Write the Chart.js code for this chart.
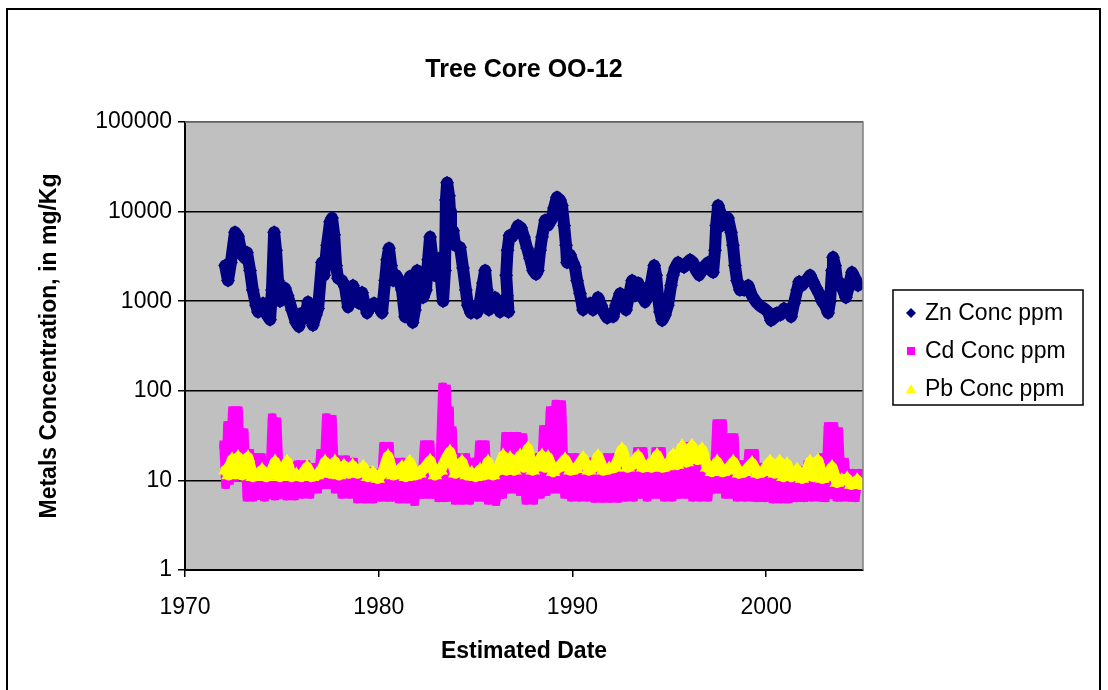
<!DOCTYPE html>
<html>
<head>
<meta charset="utf-8">
<title>Tree Core OO-12</title>
<script src="https://cdn.jsdelivr.net/npm/chart.js@4/dist/chart.umd.min.js"></script>
<style>
  html, body { margin: 0; padding: 0; background: #fff; }
  canvas { display: block; }
</style>
</head>
<body>
<canvas id="coreChart" width="1108" height="690"></canvas>
<script>
// Tick values
const xTicks = [1970, 1980, 1990, 2000];
const yTicks = [1, 10, 100, 1000, 10000, 100000];

// Zn
const znYears = [
  1972.07, 1972.22, 1972.37, 1972.58, 1972.74, 1972.94, 1973.1, 1973.2, 1973.36, 1973.5,
  1973.67, 1973.77, 1974.03, 1974.23, 1974.39, 1974.49, 1974.6, 1974.7, 1974.8, 1974.9,
  1975.16, 1975.3, 1975.52, 1975.73, 1975.88, 1976.04, 1976.2, 1976.35, 1976.5, 1976.6,
  1976.76, 1976.87, 1977.07, 1977.18, 1977.33, 1977.49, 1977.59, 1977.7, 1977.8, 1977.9,
  1978.1, 1978.26, 1978.42, 1978.57, 1978.67, 1978.83, 1978.98, 1979.14, 1979.29, 1979.4,
  1979.55, 1979.76, 1979.96, 1980.17, 1980.33, 1980.43, 1980.53, 1980.64, 1980.74, 1980.9,
  1981.05, 1981.2, 1981.36, 1981.51, 1981.62, 1981.75, 1981.87, 1981.98, 1982.13, 1982.29,
  1982.44, 1982.55, 1982.65, 1982.75, 1982.86, 1983.01, 1983.11, 1983.22, 1983.32, 1983.42,
  1983.47, 1983.53, 1983.63, 1983.68, 1983.73, 1983.84, 1983.94, 1984.2, 1984.35, 1984.5,
  1984.6, 1984.76, 1984.92, 1985.07, 1985.23, 1985.38, 1985.49, 1985.59, 1985.69, 1985.85,
  1986.0, 1986.16, 1986.26, 1986.42, 1986.55, 1986.62, 1986.7, 1986.58, 1986.65, 1986.75,
  1986.88, 1987.04, 1987.19, 1987.35, 1987.5, 1987.66, 1987.81, 1987.97, 1988.12, 1988.22,
  1988.33, 1988.43, 1988.59, 1988.74, 1988.9, 1989.05, 1989.2, 1989.36, 1989.46, 1989.57,
  1989.67, 1989.72, 1989.88, 1990.03, 1990.13, 1990.24, 1990.39, 1990.55, 1990.7, 1990.91,
  1991.06, 1991.22, 1991.32, 1991.48, 1991.63, 1991.79, 1991.94, 1992.1, 1992.25, 1992.46,
  1992.61, 1992.77, 1992.92, 1993.08, 1993.23, 1993.39, 1993.54, 1993.75, 1993.9, 1994.06,
  1994.22, 1994.32, 1994.42, 1994.52, 1994.63, 1994.78, 1994.93, 1995.09, 1995.19, 1995.3,
  1995.45, 1995.61, 1995.76, 1995.92, 1996.07, 1996.23, 1996.38, 1996.54, 1996.69, 1996.85,
  1997.0, 1997.16, 1997.26, 1997.36, 1997.42, 1997.52, 1997.62, 1997.72, 1997.88, 1998.03,
  1998.19, 1998.29, 1998.39, 1998.5, 1998.65, 1998.86, 1999.07, 1999.27, 1999.48, 1999.69,
  1999.89, 2000.1, 2000.25, 2000.41, 2000.56, 2000.72, 2000.92, 2001.13, 2001.29, 2001.44,
  2001.6, 2001.7, 2001.85, 2002.06, 2002.27, 2002.42, 2002.58, 2002.73, 2002.89, 2003.04,
  2003.2, 2003.3, 2003.4, 2003.45, 2003.56, 2003.66, 2003.82, 2003.97, 2004.12, 2004.28,
  2004.43, 2004.59, 2004.74
];
const znValues = [
  2500, 1700, 2700, 5900, 5300, 3300, 3000, 3500, 2200, 1330,
  900, 760, 950, 700, 620, 1330, 5900, 3700, 1700, 1000,
  1400, 1150, 800, 580, 520, 740, 650, 980, 800, 540,
  700, 830, 2700, 1950, 4200, 7700, 8500, 5500, 2500, 1800,
  1700, 1450, 860, 1330, 1500, 1100, 950, 1250, 900, 740,
  860, 950, 900, 740, 1700, 2900, 3900, 2500, 1700, 1950,
  1700, 1330, 670, 1000, 1900, 580, 800, 2200, 1500, 1100,
  1330, 2900, 5200, 3300, 1950, 2700, 3000, 1700, 1000, 2200,
  13500, 21000, 15000, 10000, 5200, 6100, 4200, 4000, 2350, 1330,
  900, 740, 860, 740, 1000, 1600, 2200, 1330, 800, 900,
  1100, 900, 760, 1000, 800, 1150, 760, 1950, 3700, 5400,
  5200, 5900, 7000, 6600, 5200, 3900, 3000, 2200, 2000, 2200,
  3700, 5200, 8000, 7000, 8000, 11000, 14500, 13500, 11700, 7000,
  4200, 2700, 3300, 2700, 2400, 1700, 1220, 800, 900, 950,
  800, 900, 1100, 900, 740, 650, 700, 670, 900, 1220,
  950, 800, 1150, 1700, 1150, 1600, 1220, 980, 1150, 1600,
  2500, 1950, 1100, 760, 610, 700, 900, 1500, 1950, 2350,
  2700, 2500, 2400, 2700, 2900, 2700, 2200, 1950, 2200, 2500,
  2700, 2200, 2100, 3700, 7000, 11700, 10000, 7000, 8000, 8500,
  5900, 4200, 2500, 1700, 1330, 1330, 1500, 1150, 980, 880,
  830, 760, 610, 650, 740, 700, 830, 760, 670, 950,
  1330, 1650, 1500, 1700, 1950, 1650, 1400, 1220, 1000, 900,
  740, 1000, 2200, 3100, 2500, 1700, 1600, 1330, 1100, 1500,
  2100, 1800, 1500
];

// Cd
const cdYears = [
  1972.0, 1972.1, 1972.2, 1972.3, 1972.45, 1972.6, 1972.75, 1972.9, 1973.05, 1973.2,
  1973.35, 1973.5, 1973.65, 1973.8, 1973.95, 1974.1, 1974.25, 1974.35, 1974.5, 1974.65,
  1974.75, 1974.9, 1975.05, 1975.25, 1975.45, 1975.65, 1975.85, 1976.05, 1976.25, 1976.45,
  1976.65, 1976.85, 1977.0, 1977.15, 1977.3, 1977.45, 1977.6, 1977.75, 1977.9, 1978.1,
  1978.3, 1978.5, 1978.7, 1978.9, 1979.1, 1979.3, 1979.5, 1979.7, 1979.9, 1980.1,
  1980.25, 1980.4, 1980.55, 1980.7, 1980.85, 1981.05, 1981.25, 1981.45, 1981.65, 1981.85,
  1982.05, 1982.2, 1982.35, 1982.5, 1982.65, 1982.8, 1982.95, 1983.1, 1983.3, 1983.4,
  1983.5, 1983.6, 1983.65, 1983.75, 1983.8, 1983.95, 1984.1, 1984.3, 1984.5, 1984.7,
  1984.9, 1985.05, 1985.2, 1985.35, 1985.5, 1985.65, 1985.85, 1986.05, 1986.25, 1986.4,
  1986.55, 1986.7, 1986.85, 1987.0, 1987.15, 1987.3, 1987.45, 1987.6, 1987.8, 1988.0,
  1988.2, 1988.35, 1988.5, 1988.65, 1988.85, 1989.0, 1989.15, 1989.3, 1989.45, 1989.6,
  1989.75, 1989.95, 1990.15, 1990.35, 1990.55, 1990.75, 1990.95, 1991.15, 1991.35, 1991.55,
  1991.75, 1991.95, 1992.15, 1992.35, 1992.55, 1992.75, 1992.95, 1993.15, 1993.35, 1993.5,
  1993.65, 1993.85, 1994.0, 1994.15, 1994.3, 1994.45, 1994.6, 1994.75, 1994.95, 1995.15,
  1995.35, 1995.5, 1995.7, 1995.85, 1996.0, 1996.2, 1996.4, 1996.6, 1996.8, 1997.0,
  1997.15, 1997.3, 1997.45, 1997.6, 1997.75, 1997.9, 1998.05, 1998.2, 1998.35, 1998.5,
  1998.7, 1998.9, 1999.1, 1999.25, 1999.4, 1999.55, 1999.75, 1999.95, 2000.15, 2000.35,
  2000.55, 2000.75, 2000.95, 2001.15, 2001.35, 2001.55, 2001.75, 2001.95, 2002.15, 2002.35,
  2002.55, 2002.75, 2002.9, 2003.05, 2003.2, 2003.35, 2003.5, 2003.65, 2003.75, 2003.9,
  2004.05, 2004.25, 2004.45, 2004.6, 2004.8
];
const cdValues = [
  25, 9, 41, 10, 60, 11, 60, 12, 34, 6.5,
  20, 6.5, 18, 6.8, 18, 6.5, 15, 7, 50, 6.7,
  45, 7, 14, 6.7, 14.5, 6.7, 15, 7, 15, 7,
  14, 8, 20, 9, 50, 9, 48, 8, 17, 7,
  17, 7, 16, 6.2, 12.7, 6.2, 12.5, 6.2, 12, 6.5,
  24, 6.5, 24, 6.5, 16, 6.2, 16, 6.2, 11, 5.8,
  11, 7, 25, 7, 25, 7, 11, 6.4, 110, 6.4,
  105, 7, 60, 6.5, 36, 6, 18, 6, 18, 6,
  16, 6.5, 25, 6.5, 25, 6, 10, 5.8, 10, 7,
  31, 8, 31, 8, 31, 7.5, 30, 6, 18, 6,
  18, 7, 37, 7.5, 60, 8, 71, 8, 70, 7,
  18, 6.5, 18, 6.5, 16, 6.5, 16, 6.3, 17, 6.3,
  18, 6.3, 18, 6.3, 17, 6.5, 14, 6.5, 21, 7,
  21, 6.5, 12, 7, 21, 7, 21, 6.5, 13, 6.5,
  19, 7, 24, 7, 24, 6.5, 16, 6.5, 16, 6.5,
  16, 8, 43, 8, 43, 7, 30, 7, 30, 6.5,
  15, 6.5, 20, 6.5, 20, 6.4, 14, 6.4, 14, 6.2,
  13, 6.2, 13, 6.2, 13, 6.4, 13, 6.4, 15, 6.5,
  15, 6.5, 18, 6.4, 40, 7, 40, 6.5, 35, 6.5,
  16, 6.5, 12, 6.4, 12
];

// Pb
const pbYears = [
  1972.1, 1972.25, 1972.43, 1972.6, 1972.74, 1972.95, 1973.25, 1973.5, 1973.75, 1973.98,
  1974.2, 1974.4, 1974.65, 1974.9, 1975.05, 1975.27, 1975.5, 1975.75, 1976.0, 1976.3,
  1976.55, 1976.8, 1977.0, 1977.23, 1977.5, 1977.74, 1977.95, 1978.2, 1978.45, 1978.65,
  1978.9, 1979.2, 1979.45, 1979.7, 1979.95, 1980.2, 1980.48, 1980.75, 1981.0, 1981.2,
  1981.4, 1981.6, 1981.85, 1982.1, 1982.4, 1982.65, 1982.9, 1983.2, 1983.45, 1983.68,
  1983.95, 1984.3, 1984.55, 1984.8, 1985.0, 1985.23, 1985.45, 1985.64, 1985.9, 1986.15,
  1986.42, 1986.6, 1986.78, 1987.0, 1987.3, 1987.5, 1987.7, 1987.95, 1988.2, 1988.43,
  1988.6, 1988.74, 1989.0, 1989.3, 1989.62, 1989.9, 1990.2, 1990.55, 1990.85, 1991.1,
  1991.32, 1991.6, 1991.9, 1992.2, 1992.56, 1992.85, 1993.1, 1993.39, 1993.65, 1993.9,
  1994.1, 1994.37, 1994.65, 1994.9, 1995.2, 1995.4, 1995.66, 1995.9, 1996.17, 1996.45,
  1996.69, 1996.95, 1997.2, 1997.47, 1997.75, 1998.0, 1998.3, 1998.6, 1998.9, 1999.27,
  1999.55, 1999.85, 2000.2, 2000.45, 2000.7, 2000.9, 2001.08, 2001.3, 2001.6, 2001.85,
  2002.05, 2002.27, 2002.45, 2002.68, 2002.9, 2003.1, 2003.4, 2003.65, 2003.9, 2004.18,
  2004.4, 2004.7, 2004.85
];
const pbValues = [
  13, 11.5, 17, 12, 18, 11.5, 18, 11, 11.5, 13,
  11, 11.5, 16, 11, 12, 16, 11, 11.5, 11, 14,
  11, 11.5, 12, 16, 12, 16, 11.5, 14.5, 12, 14.5,
  12, 14, 11, 12, 10.5, 12, 18.5, 11.5, 12, 14,
  11, 16, 11.5, 12, 14, 16.5, 11.5, 13, 17, 20.7,
  12, 16, 11.5, 12, 11, 13, 11.5, 16, 11.5, 13,
  18.7, 13, 17.5, 13, 18.7, 14, 22.5, 13, 15, 18.7,
  14, 18, 12.5, 14, 17, 13, 13.5, 17.5, 13, 14,
  18.5, 13, 13.5, 14, 22, 14, 15, 18.5, 14, 14.5,
  14, 19, 14, 14.5, 19, 15, 23.7, 16, 24, 17,
  22, 14, 12.5, 16, 12.5, 13, 16, 12, 12.5, 15.5,
  12, 12.5, 16, 12, 16, 11, 15, 11, 13, 10.5,
  12, 16, 11, 16.5, 10.5, 11, 14, 9.5, 10, 10.4,
  9, 10, 9
];

const seriesLabels = ['Zn Conc ppm', 'Cd Conc ppm', 'Pb Conc ppm'];
const seriesColors = ['#000080', '#FF00FF', '#FFFF00'];

const FONT = "'Liberation Sans', Arial, sans-serif";

function toPoints(xs, ys) {
  return xs.map((x, i) => ({ x: x, y: ys[i] }));
}

// draws one legend marker by hand
function legendMarker(ctx, style, x, y, color) {
  ctx.save();
  ctx.fillStyle = color;
  ctx.beginPath();
  if (style === 'rectRot') {
    ctx.moveTo(x, y - 5); ctx.lineTo(x + 5, y); ctx.lineTo(x, y + 5); ctx.lineTo(x - 5, y);
  } else if (style === 'rect') {
    ctx.rect(x - 4, y - 4, 8, 8);
  } else {
    ctx.moveTo(x, y - 5); ctx.lineTo(x + 5, y + 4); ctx.lineTo(x - 5, y + 4);
  }
  ctx.closePath();
  ctx.fill();
  ctx.restore();
}

// gray plot background, outer frame and boxed legend
const framePlugin = {
  id: 'frame',
  beforeDraw(chart) {
    const { ctx, chartArea: a } = chart;
    ctx.save();
    ctx.fillStyle = '#fff';
    ctx.fillRect(0, 0, chart.width, chart.height);
    ctx.fillStyle = '#C0C0C0';
    ctx.fillRect(a.left, a.top, a.right - a.left, a.bottom - a.top);
    ctx.restore();
  },
  afterDraw(chart) {
    const { ctx, chartArea: a } = chart;
    ctx.save();
    // plot area right / top edge
    ctx.strokeStyle = '#808080';
    ctx.lineWidth = 1.5;
    ctx.beginPath();
    ctx.moveTo(a.left, a.top);
    ctx.lineTo(a.right, a.top);
    ctx.lineTo(a.right, a.bottom);
    ctx.stroke();
    // outer frame
    ctx.strokeStyle = '#000';
    ctx.lineWidth = 2;
    ctx.strokeRect(7, 9, 1093, 700);

    // legend
    const lx = a.right + 30, lw = 190, lh = 115;
    const ly = Math.round((a.top + a.bottom) / 2) - 56;
    ctx.fillStyle = '#fff';
    ctx.fillRect(lx, ly, lw, lh);
    ctx.lineWidth = 1.5;
    ctx.strokeRect(lx, ly, lw, lh);
    ctx.font = '23px ' + FONT;
    ctx.textBaseline = 'middle';
    ctx.fillStyle = '#000';
    chart.data.datasets.forEach((ds, i) => {
      const cy = ly + 23 + i * 38;
      legendMarker(ctx, ds.pointStyle, lx + 18, cy, ds.pointBackgroundColor);
      ctx.fillStyle = '#000';
      ctx.fillText(ds.label, lx + 32, cy + 1);
    });
    ctx.restore();
  }
};

new Chart(document.getElementById('coreChart').getContext('2d'), {
  type: 'scatter',
  data: {
    datasets: [
      {
        label: seriesLabels[0],
        data: toPoints(znYears, znValues),
        showLine: true,
        borderColor: seriesColors[0],
        borderWidth: 12,
        borderJoinStyle: 'round',
        borderCapStyle: 'round',
        pointStyle: 'rectRot',
        pointRadius: 7,
        pointBorderWidth: 0,
        pointBackgroundColor: seriesColors[0],
        order: 2
      },
      {
        label: seriesLabels[1],
        data: toPoints(cdYears, cdValues),
        showLine: true,
        borderColor: seriesColors[1],
        borderWidth: 9,
        borderJoinStyle: 'round',
        borderCapStyle: 'round',
        pointStyle: 'rect',
        pointRadius: 6,
        pointBorderWidth: 0,
        pointBackgroundColor: seriesColors[1],
        order: 1
      },
      {
        label: seriesLabels[2],
        data: toPoints(pbYears, pbValues),
        showLine: true,
        borderColor: seriesColors[2],
        borderWidth: 11,
        borderJoinStyle: 'round',
        borderCapStyle: 'round',
        pointStyle: 'triangle',
        pointRadius: 8.5,
        pointBorderWidth: 0,
        pointBackgroundColor: seriesColors[2],
        order: 0
      }
    ]
  },
  options: {
    responsive: false,
    animation: false,
    layout: { padding: { left: 10, right: 245, top: 10, bottom: 10 } },
    plugins: {
      legend: { display: false },
      tooltip: { enabled: false },
      title: {
        display: true,
        text: 'Tree Core OO-12',
        fullSize: false,
        color: '#000',
        font: { family: FONT, size: 25, weight: 'bold' },
        padding: { top: 45, bottom: 37 }
      }
    },
    scales: {
      x: {
        type: 'linear',
        min: 1970,
        max: 2005,
        afterBuildTicks: s => { s.ticks = xTicks.map(v => ({ value: v })); },
        afterFit: s => { s.height = 110; },
        ticks: {
          color: '#000',
          font: { family: FONT, size: 23 },
          padding: 17,
          maxRotation: 0,
          callback: v => String(v)
        },
        grid: { drawOnChartArea: false, tickLength: 7, tickColor: '#000', lineWidth: 1.5 },
        border: { color: '#000', width: 2 },
        title: {
          display: true,
          text: 'Estimated Date',
          color: '#000',
          font: { family: FONT, size: 23, weight: 'bold' },
          padding: { top: 0, bottom: 15 }
        }
      },
      y: {
        type: 'logarithmic',
        min: 1,
        max: 100000,
        afterBuildTicks: s => { s.ticks = yTicks.map(v => ({ value: v })); },
        afterFit: s => { s.width = 175; },
        ticks: {
          color: '#000',
          font: { family: FONT, size: 23 },
          padding: 6,
          callback: v => String(v)
        },
        grid: { color: '#000', lineWidth: 1.5, tickLength: 7, tickColor: '#000' },
        border: { color: '#000', width: 2 },
        title: {
          display: true,
          text: 'Metals Concentration, in mg/Kg',
          color: '#000',
          font: { family: FONT, size: 23, weight: 'bold' },
          padding: { top: 26, bottom: 0 }
        }
      }
    }
  },
  plugins: [framePlugin]
});
</script>
</body>
</html>
